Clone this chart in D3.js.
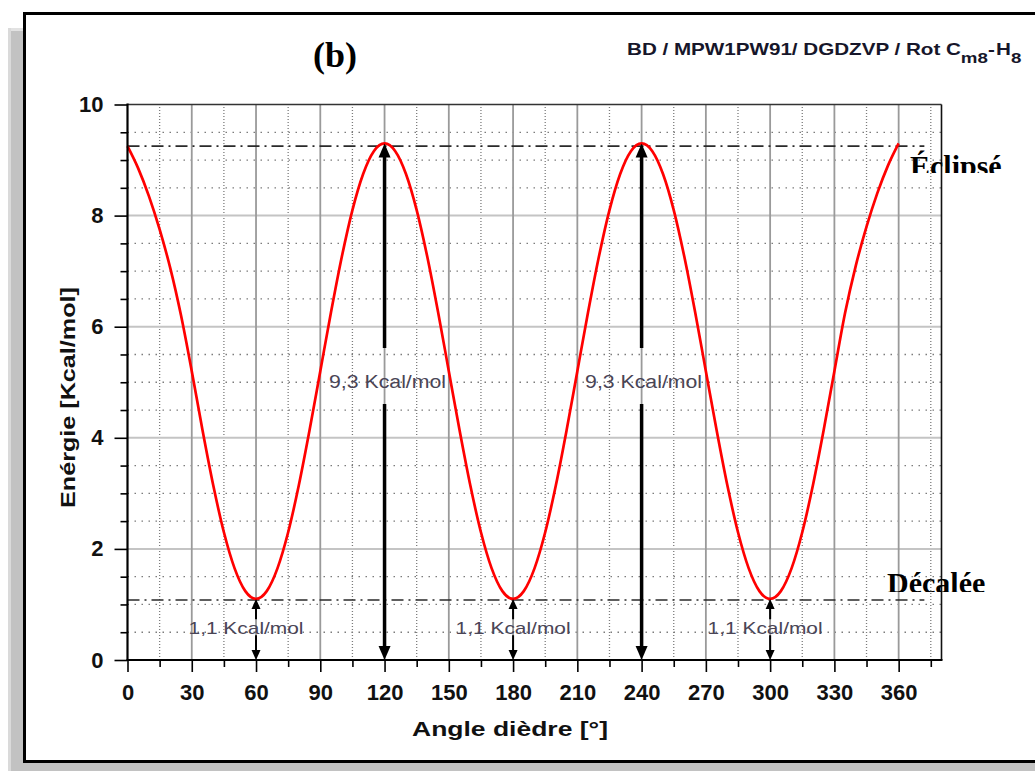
<!DOCTYPE html>
<html>
<head>
<meta charset="utf-8">
<script src="https://cdn.jsdelivr.net/npm/d3@7"></script>
<style>
  body { margin: 0; background: #fff; }
  svg { display: block; }
</style>
</head>
<body>
<svg id="chart" width="1035" height="771"></svg>
<script>
// Torsion scan: dihedral angle (degrees) vs relative energy (kcal/mol)
const angles = [
  0, 5, 10, 15, 20, 25, 30, 35, 40, 45, 50, 55, 60,
  65, 70, 75, 80, 85, 90, 95, 100, 105, 110, 115, 120,
  125, 130, 135, 140, 145, 150, 155, 160, 165, 170, 175, 180,
  185, 190, 195, 200, 205, 210, 215, 220, 225, 230, 235, 240,
  245, 250, 255, 260, 265, 270, 275, 280, 285, 290, 295, 300,
  305, 310, 315, 320, 325, 330, 335, 340, 345, 350, 355, 360
];
const energy = [
  9.25, 8.85, 8.35, 7.75, 7.05, 6.20, 5.20, 4.14, 3.15, 2.30, 1.65, 1.24, 1.10,
  1.24, 1.65, 2.30, 3.15, 4.14, 5.20, 6.26, 7.25, 8.10, 8.75, 9.16, 9.30,
  9.16, 8.75, 8.10, 7.25, 6.26, 5.20, 4.14, 3.15, 2.30, 1.65, 1.24, 1.10,
  1.24, 1.65, 2.30, 3.15, 4.14, 5.20, 6.26, 7.25, 8.10, 8.75, 9.16, 9.30,
  9.16, 8.75, 8.10, 7.25, 6.26, 5.20, 4.14, 3.15, 2.30, 1.65, 1.24, 1.10,
  1.24, 1.65, 2.30, 3.15, 4.14, 5.20, 6.25, 7.10, 7.80, 8.40, 8.90, 9.30
];

const xMajorTicks = [0, 30, 60, 90, 120, 150, 180, 210, 240, 270, 300, 330, 360];
const xMinorTicks = [15, 45, 75, 105, 135, 165, 195, 225, 255, 285, 315, 345, 375];
const yMajorTicks = [0, 2, 4, 6, 8, 10];
const yMinorTicks = [0.5, 1, 1.5, 2.5, 3, 3.5, 4.5, 5, 5.5, 6.5, 7, 7.5, 8.5, 9, 9.5];

// conformer reference levels
const refLevels = [9.25, 1.08];
const refNames = ["Éclipsé", "Décalée"];

// barrier arrows
const arrowAngles = [60, 120, 180, 240, 300];
const arrowTops = [1.1, 9.3, 1.1, 9.3, 1.1];
const arrowLabels = ["1,1 Kcal/mol", "9,3 Kcal/mol", "1,1 Kcal/mol", "9,3 Kcal/mol", "1,1 Kcal/mol"];

const svg = d3.select("#chart");

// ---- outer panel and frame ----
svg.append("rect").attr("x", 8).attr("y", 28).attr("width", 1040).attr("height", 760).attr("fill", "#c2c2c2");
svg.append("line").attr("x1", 8).attr("x2", 1035).attr("y1", 29.5).attr("y2", 29.5).attr("stroke", "#e2e2e2").attr("stroke-width", 3);
svg.append("line").attr("x1", 9.5).attr("x2", 9.5).attr("y1", 28).attr("y2", 771).attr("stroke", "#dadada").attr("stroke-width", 3);
svg.append("rect").attr("x", 24.5).attr("y", 13.5).attr("width", 1030).attr("height", 748)
  .attr("fill", "#fff").attr("stroke", "#000").attr("stroke-width", 3);

// ---- scales ----
const x = d3.scaleLinear().domain([0, 380]).range([127.5, 941.5]);
const y = d3.scaleLinear().domain([0, 10]).range([660, 104.5]);
const [x0, x1] = x.range();
const [yb, yt] = y.range();

const plot = svg.append("g");

// ---- grid ----
plot.append("g").selectAll("line").data(xMinorTicks.filter(d => d < 380)).join("line")
  .attr("x1", d => x(d)).attr("x2", d => x(d)).attr("y1", yb).attr("y2", yt)
  .attr("stroke", "#7c7c7c").attr("stroke-width", 1.3).attr("stroke-dasharray", "1,2");
plot.append("g").selectAll("line").data(yMinorTicks).join("line")
  .attr("x1", x0).attr("x2", x1).attr("y1", d => y(d)).attr("y2", d => y(d))
  .attr("stroke", "#7c7c7c").attr("stroke-width", 1.3).attr("stroke-dasharray", "1.5,5.5");
plot.append("g").selectAll("line").data(yMajorTicks.filter(d => d > 0 && d < 10)).join("line")
  .attr("x1", x0).attr("x2", x1).attr("y1", d => y(d)).attr("y2", d => y(d))
  .attr("stroke", "#c4c4c4").attr("stroke-width", 2);
plot.append("g").selectAll("line").data(xMajorTicks.filter(d => d > 0)).join("line")
  .attr("x1", d => x(d)).attr("x2", d => x(d)).attr("y1", yb).attr("y2", yt)
  .attr("stroke", "#9a9a9a").attr("stroke-width", 1.8);

// ---- reference levels (dash-dot) ----
plot.append("g").selectAll("line").data(refLevels).join("line")
  .attr("x1", x0).attr("x2", x(372)).attr("y1", d => y(d)).attr("y2", d => y(d))
  .attr("stroke", "#2a2a2a").attr("stroke-width", 1.6).attr("stroke-dasharray", "12,5,2,5");

// ---- energy curve ----
const line = d3.line()
  .x((d, i) => x(angles[i]))
  .y(d => y(d))
  .curve(d3.curveMonotoneX);
plot.append("path").datum(energy)
  .attr("d", line)
  .attr("fill", "none").attr("stroke", "#ff0000").attr("stroke-width", 2.7);

// ---- double arrows with labels ----
const labelNudge = [-10, 3, 0, 2, -5];
const arrows = plot.append("g");
arrowAngles.forEach((a, i) => {
  const top = arrowTops[i];
  const big = top > 5;
  const ax = x(a);
  const w = big ? 3.5 : 2;
  const hw = big ? 6 : 4.5;
  const hl = big ? 14 : 10;
  const yTop = y(top), yBot = y(0);
  const labelY = big ? y(top * 0.54) : y(top * 0.52);
  const gapUp = big ? 33 : 9;
  const gapDown = big ? 23 : 7;

  arrows.append("line").attr("x1", ax).attr("x2", ax)
    .attr("y1", yTop + hl - 1).attr("y2", labelY - gapUp)
    .attr("stroke", "#000").attr("stroke-width", w);
  arrows.append("line").attr("x1", ax).attr("x2", ax)
    .attr("y1", labelY + gapDown).attr("y2", yBot - hl + 1)
    .attr("stroke", "#000").attr("stroke-width", w);
  arrows.append("path")
    .attr("d", `M${ax},${yTop} L${ax - hw},${yTop + hl} L${ax + hw},${yTop + hl} Z`)
    .attr("fill", "#000");
  arrows.append("path")
    .attr("d", `M${ax},${yBot} L${ax - hw},${yBot - hl} L${ax + hw},${yBot - hl} Z`)
    .attr("fill", "#000");

  arrows.append("text")
    .attr("x", ax + labelNudge[i]).attr("y", labelY).attr("dy", "0.36em")
    .attr("text-anchor", "middle")
    .attr("font-family", "Liberation Sans, Arial, sans-serif")
    .attr("font-size", big ? 18 : 17)
    .attr("fill", "#4a4556")
    .attr("textLength", big ? 117 : 115)
    .attr("lengthAdjust", "spacingAndGlyphs")
    .text(arrowLabels[i]);
});

// ---- plot box ----
plot.append("line").attr("x1", x0).attr("x2", x1).attr("y1", yt).attr("y2", yt)
  .attr("stroke", "#333").attr("stroke-width", 1.6);
plot.append("line").attr("x1", x1).attr("x2", x1).attr("y1", yt).attr("y2", yb)
  .attr("stroke", "#111").attr("stroke-width", 1.6);

// ---- axes ----
const fontAxis = "Liberation Sans, Arial, sans-serif";
const styleAxis = g => {
  g.select(".domain").remove();
  g.selectAll(".tick line").attr("stroke", "#000").attr("stroke-width", 1.6);
  g.selectAll(".tick text").attr("font-family", fontAxis).attr("font-size", 22)
    .attr("font-weight", "bold").attr("fill", "#111");
};

svg.append("g").attr("transform", `translate(${x0},0)`)
  .call(d3.axisLeft(y).tickValues(yMinorTicks).tickSize(7).tickFormat(""))
  .call(styleAxis);
svg.append("g").attr("transform", `translate(${x0},0)`)
  .call(d3.axisLeft(y).tickValues(yMajorTicks).tickSize(13).tickPadding(11).tickFormat(d3.format("d")))
  .call(styleAxis);
svg.append("g").attr("transform", `translate(0,${yb})`)
  .call(d3.axisBottom(x).tickValues(xMinorTicks).tickSize(7).tickFormat(""))
  .call(styleAxis);
svg.append("g").attr("transform", `translate(0,${yb})`)
  .call(d3.axisBottom(x).tickValues(xMajorTicks).tickSize(12).tickPadding(12).tickFormat(d3.format("d")))
  .call(styleAxis);

svg.append("line").attr("x1", x0).attr("x2", x0).attr("y1", yt - 1).attr("y2", yb + 1)
  .attr("stroke", "#000").attr("stroke-width", 2.2);
svg.append("line").attr("x1", x0 - 1).attr("x2", x1 + 1).attr("y1", yb).attr("y2", yb)
  .attr("stroke", "#000").attr("stroke-width", 2.2);

// ---- axis titles ----
svg.append("text")
  .attr("x", 510).attr("y", 736)
  .attr("text-anchor", "middle")
  .attr("font-family", fontAxis).attr("font-size", 21).attr("font-weight", "bold").attr("fill", "#111")
  .attr("textLength", 196).attr("lengthAdjust", "spacingAndGlyphs")
  .text("Angle dièdre [°]");
svg.append("text")
  .attr("transform", "translate(75,397.5) rotate(-90)")
  .attr("text-anchor", "middle")
  .attr("font-family", fontAxis).attr("font-size", 21).attr("font-weight", "bold").attr("fill", "#111")
  .attr("textLength", 221).attr("lengthAdjust", "spacingAndGlyphs")
  .text("Enérgie [Kcal/mol]");

// ---- panel letter ----
svg.append("text")
  .attr("x", 335).attr("y", 67)
  .attr("text-anchor", "middle")
  .attr("font-family", "Liberation Serif, Times New Roman, serif")
  .attr("font-size", 36).attr("font-weight", "bold").attr("fill", "#000")
  .text("(b)");

// ---- method caption ----
const cap = svg.append("g").attr("transform", "translate(627,55) scale(1.25,1)")
  .append("text")
  .attr("font-family", fontAxis).attr("font-size", 16.5).attr("font-weight", "bold").attr("fill", "#16162a");
cap.append("tspan").text("BD / MPW1PW91/ DGDZVP / Rot C");
cap.append("tspan").attr("dy", 8).attr("font-size", 15).text("m8");
cap.append("tspan").attr("dy", -8).text("-");
cap.append("tspan").attr("dx", 1).text("H");
cap.append("tspan").attr("dy", 8).attr("font-size", 15).text("8");

// ---- conformer names (cut at the baseline) ----
const defs = svg.append("defs");
const nameBoxes = [{ x: 905, top: 140, bottom: 173, base: 175.5, left: 910 },
                   { x: 880, top: 560, bottom: 592, base: 593, left: 887 }];
refNames.forEach((name, i) => {
  const b = nameBoxes[i];
  defs.append("clipPath").attr("id", "clip-name-" + i)
    .append("rect").attr("x", b.x).attr("y", b.top).attr("width", 140).attr("height", b.bottom - b.top);
  svg.append("text")
    .attr("clip-path", `url(#clip-name-${i})`)
    .attr("x", b.left).attr("y", b.base)
    .attr("font-family", "Liberation Serif, Times New Roman, serif")
    .attr("font-size", 30).attr("font-weight", "bold").attr("fill", "#000")
    .text(name);
});
</script>
</body>
</html>
